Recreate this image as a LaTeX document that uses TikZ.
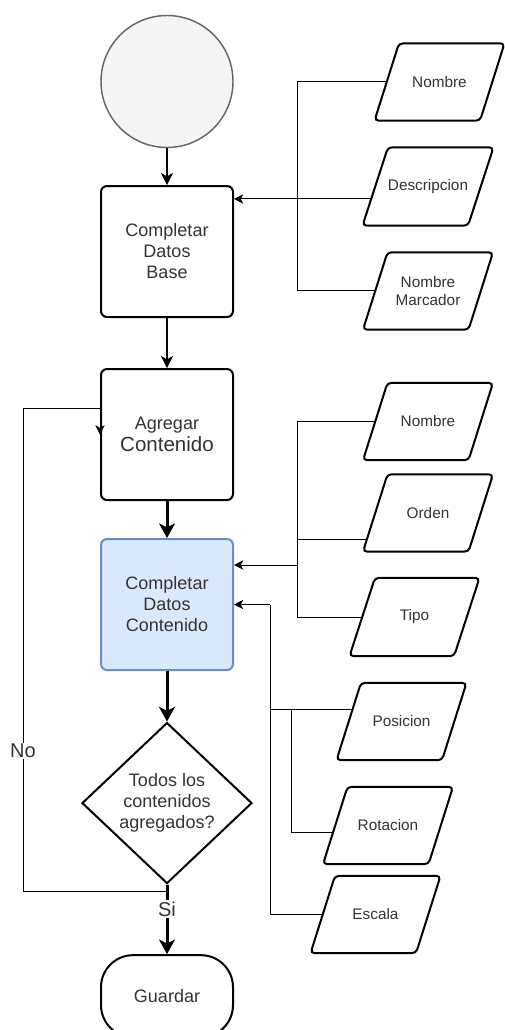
\documentclass[tikz,border=0pt]{standalone}
\usepackage{fontspec}
\setmainfont{Liberation Sans}
\usetikzlibrary{positioning,shapes.geometric,arrows.meta,backgrounds}
\definecolor{txt}{HTML}{333333}
\definecolor{startfill}{HTML}{F5F5F5}
\definecolor{startline}{HTML}{666666}
\definecolor{bluefill}{HTML}{DAE8FC}
\definecolor{blueline}{HTML}{6C8EBF}
\newcommand{\procfont}{\fontsize{13.5}{15.75}\selectfont}
\newcommand{\datafont}{\fontsize{11.5}{14}\selectfont}
\tikzset{
  startcircle/.style={circle,draw=startline,fill=startfill,line width=1.1pt,minimum size=99pt,inner sep=0pt},
  procbox/.style={rectangle,draw,fill=white,line width=1.5pt,rounded corners=4.5pt,minimum width=99pt,minimum height=98.25pt,align=center,font=\procfont,text=txt},
  activebox/.style={procbox,draw=blueline,fill=bluefill},
  decision/.style={diamond,draw,fill=white,line width=1.5pt,minimum width=127.5pt,minimum height=120.75pt,inner sep=0pt,align=center,font=\procfont,text=txt},
  terminal/.style={rectangle,draw,fill=white,line width=1.5pt,rounded corners=24pt,minimum width=99pt,minimum height=61.5pt,font=\procfont,text=txt},
  datain/.style={trapezium,trapezium left angle=72,trapezium right angle=108,trapezium stretches body=true,draw,fill=white,line width=1.5pt,rounded corners=3pt,minimum width=97.5pt,minimum height=58pt,inner xsep=0pt,inner ysep=24pt,align=center,font=\datafont,text=txt},
  flow/.style={-{Stealth[length=9pt,width=9pt,inset=2.5pt]},line width=1.5pt},
  heavyflow/.style={-{Stealth[length=11pt,width=12pt,inset=3pt]},line width=2.25pt},
  feed/.style={line width=0.75pt},
  feedarrow/.style={feed,-{Stealth[length=7pt,width=7pt,inset=2pt]}},
  lbl/.style={fill=white,inner sep=1pt,font=\fontsize{15}{18}\selectfont,text=txt}
}

\begin{document}
\begin{tikzpicture}[x=0.75pt,y=-0.75pt]
\useasboundingbox (0,0) rectangle (504,1030);

\node[startcircle] (S) at (167,81.5) {};
\node[procbox,below=27.6pt of S] (B) {Completar\\Datos\\Base};
\node[procbox,below=37.5pt of B] (A) {Agregar\\[1pt]{\fontsize{15.4}{17}\selectfont Contenido}};
\node[activebox,below=27.75pt of A] (C) {Completar\\Datos\\Contenido};
\node[decision,below=37.9pt of C] (D) {Todos los\\contenidos\\agregados?};
\node[terminal,below=52.2pt of D] (G) {Guardar};

\node[datain] (N1) at (439.5,82) {Nombre};
\node[datain] (De) at (428,186.5) {Descripcion};
\node[datain,inner ysep=17pt] (M) at (428,291) {Nombre\\Marcador};

\node[datain] (N2) at (428,421.5) {Nombre};
\node[datain] (O) at (428,513) {Orden};
\node[datain] (T) at (414.5,617) {Tipo};

\node[datain] (P) at (401.5,721.5) {Posicion};
\node[datain] (R) at (388,825.5) {Rotacion};
\node[datain] (E) at (375.5,914.5) {Escala};

\coordinate (j1) at (297,199);
\coordinate (j2) at (297,565);
\coordinate (j2o) at (297,539);
\coordinate (j3) at (270,604.5);
\coordinate (j3p) at (270,709);
\coordinate (j3r) at (291,832);
\coordinate (l1) at (23,891);
\coordinate (l2) at (23,408);

% feeds start under the data shapes
\begin{scope}[on background layer]
\fill[white] (0,0) rectangle (504,1030);
\draw[feed] (N1.center) -| (j1);
\draw[feed] (M.center) -| (j1);
\draw[feed] (De.center |- j1) -- (j1);
\draw[feed] (N2.center) -| (j2);
\draw[feed] (T.center) -| (j2);
\draw[feed] (O.center |- j2o) -- (j2o);
\draw[feed] (P.center |- j3p) -- (j3p);
\draw[feed] (R.center |- j3r) -- (j3r) |- (j3p);
\draw[feed] (E.center) -| (j3);
\end{scope}

\draw[feedarrow] (j1) -- (B.east |- j1);
\draw[feedarrow] (j2) -- (C.east |- j2);
\draw[feedarrow] (j3) -- (C.east |- j3);

\draw[flow] (S) -- (B);
\draw[flow] (B) -- (A);
\draw[heavyflow] (A) -- (C);
\draw[heavyflow] (C) -- (D);
\draw[heavyflow] (D) -- node[lbl,pos=0.35]{Si} (G);

\draw[feedarrow] (D.south) |- (l1) -- node[lbl,pos=0.29]{No} (l2) -| (A.west);
\end{tikzpicture}
\end{document}
